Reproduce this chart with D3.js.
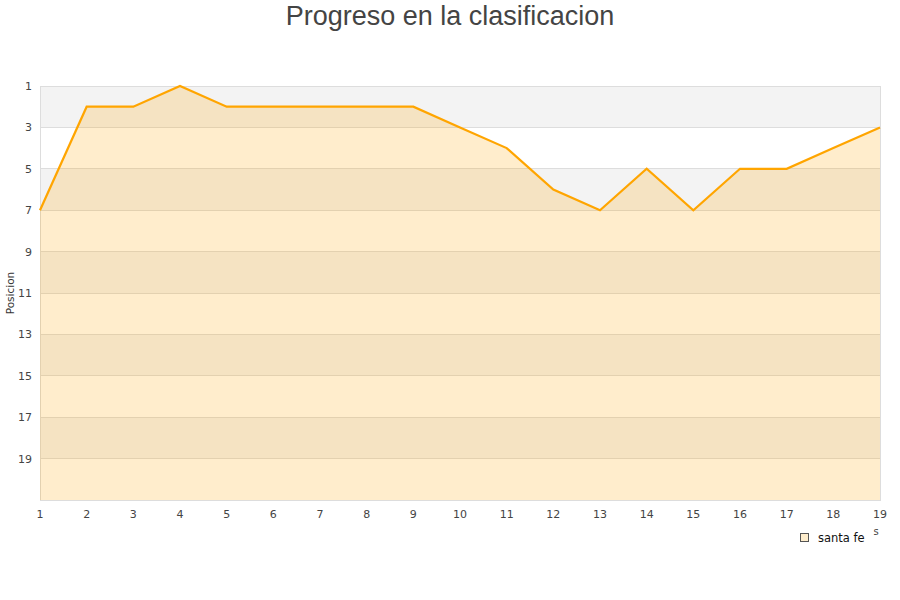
<!DOCTYPE html>
<html><head><meta charset="utf-8">
<script src="https://cdn.jsdelivr.net/npm/d3@7"></script>
<style>body{margin:0;background:#fff}svg{display:block}</style>
</head><body>
<svg id="c" width="900" height="600"></svg>
<script>
const rounds = [1,2,3,4,5,6,7,8,9,10,11,12,13,14,15,16,17,18,19];
const positions = [7,2,2,1,2,2,2,2,2,3,4,6,7,5,7,5,5,4,3];
const yTicks = [1,3,5,7,9,11,13,15,17,19];
const seriesName = "santa fe";
const title = "Progreso en la clasificacion";
const yTitle = "Posicion";

const svg = d3.select("#c");
const m = {l:40, r:880, t:86, b:500};
const x = d3.scaleLinear().domain([1,19]).range([m.l, m.r]);
const y = d3.scaleLinear().domain([1,21]).range([m.t, m.b]);

// bands
const bands = d3.range(1,21,2);
svg.selectAll("rect.band").data(bands).enter().append("rect")
  .attr("x", m.l).attr("width", m.r-m.l)
  .attr("y", d=>y(d)).attr("height", d=>y(d+2)-y(d))
  .attr("fill", (d,i)=> i%2===0 ? "#f3f3f3" : "#ffffff");
// grid
svg.selectAll("line.grid").data(yTicks).enter().append("line")
  .attr("x1", m.l).attr("x2", m.r).attr("y1", d=>y(d)).attr("y2", d=>y(d))
  .attr("stroke", "#dddddd").attr("stroke-width",1).attr("shape-rendering","crispEdges");
svg.append("rect").attr("x",m.l).attr("y",m.t).attr("width",m.r-m.l).attr("height",m.b-m.t)
  .attr("fill","none").attr("stroke","#dddddd").attr("shape-rendering","crispEdges");

const data = rounds.map((r,i)=>({r, p:positions[i]}));
svg.append("path").datum(data)
  .attr("d", d3.area().x(d=>x(d.r)).y0(m.b).y1(d=>y(d.p)))
  .attr("fill","#ffa500").attr("fill-opacity",0.2);
svg.append("path").datum(data)
  .attr("d", d3.line().x(d=>x(d.r)).y(d=>y(d.p)))
  .attr("fill","none").attr("stroke","#ffa500").attr("stroke-width",2.2);

// y axis labels
svg.selectAll("text.yt").data(yTicks).enter().append("text")
  .attr("x", 32).attr("y", d=>y(d)+4).attr("text-anchor","end")
  .attr("font-family","DejaVu Sans").attr("font-size",11).attr("fill","#444")
  .text(d=>d);
// x axis labels
svg.selectAll("text.xt").data(rounds).enter().append("text")
  .attr("x", d=>x(d)).attr("y", 518).attr("text-anchor","middle")
  .attr("font-family","DejaVu Sans").attr("font-size",11).attr("fill","#444")
  .text(d=>d);

svg.append("text").attr("transform","translate(14,293) rotate(-90)")
  .attr("text-anchor","middle").attr("font-family","DejaVu Sans").attr("font-size",10.5)
  .attr("fill","#333").text(yTitle);

svg.append("text").attr("x",450).attr("y",25).attr("text-anchor","middle")
  .attr("font-family","Liberation Sans").attr("font-size",27).attr("fill","#444").text(title);

// clipped x title remnants
svg.append("text").attr("x",876).attr("y",535).attr("text-anchor","middle")
  .attr("font-family","DejaVu Sans").attr("font-size",10).attr("fill","#444").text("s");

// legend
svg.append("rect").attr("x",800.5).attr("y",533.5).attr("width",8).attr("height",8)
  .attr("fill","#feedcc").attr("stroke","#555").attr("stroke-width",1);
svg.append("text").attr("x",818).attr("y",541.5).attr("font-family","DejaVu Sans")
  .attr("font-size",11.5).attr("fill","#111").text(seriesName);
</script>
</body></html>
